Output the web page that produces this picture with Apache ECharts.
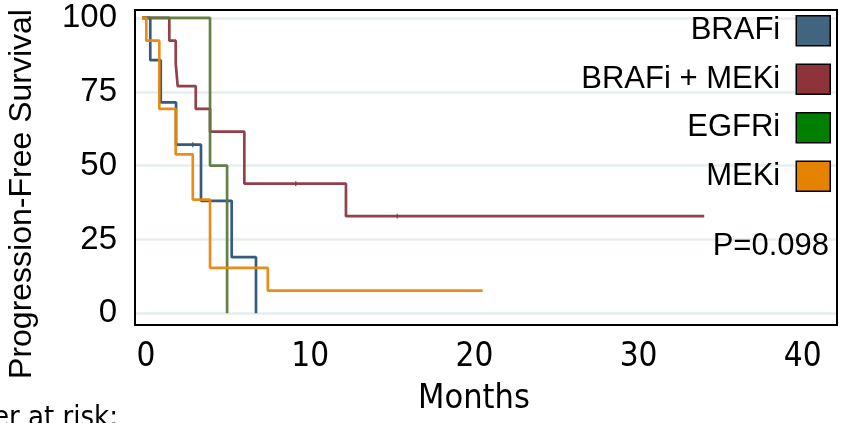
<!DOCTYPE html>
<html><head><meta charset="utf-8">
<script src="https://cdn.jsdelivr.net/npm/echarts@6/dist/echarts.min.js"></script>
<style>html,body{margin:0;padding:0;background:#fff}#c{width:843px;height:423px}</style>
</head><body><div id="c"></div>
<script>
// ---- data ----
const groupNames = ['BRAFi', 'BRAFi + MEKi', 'EGFRi', 'MEKi'];
const brafiTime = [0, 0.5, 1.14, 2.07, 3.59, 5.46, 6.94];
const brafiSurv = [100, 85.7, 71.4, 57.1, 38.1, 19.0, 0];
const brafiCensorTime = [3.09];
const brafiCensorSurv = [57.1];
const combTime = [0, 1.66, 2.05, 2.17, 3.27, 4.14, 6.23, 12.42, 34.24];
const combSurv = [100, 92.3, 84.6, 76.9, 69.2, 61.5, 43.9, 32.9, 32.9];
const combCensorTime = [9.36, 15.55];
const combCensorSurv = [43.9, 32.9];
const egfriTime = [0, 4.14, 5.18];
const egfriSurv = [100, 50, 0];
const mekiTime = [0, 0.26, 1.05, 2.05, 3.09, 4.14, 7.66, 20.75];
const mekiSurv = [100, 92.3, 69.2, 53.8, 38.5, 15.4, 7.7, 7.7];
const xTicks = [0, 10, 20, 30, 40];
const yTicks = [0, 25, 50, 75, 100];
const xTitle = 'Months';
const yTitle = 'Progression-Free Survival';
const pValueText = 'P=0.098';
const riskText = 'Number at risk:';

// ---- styles ----
const lineColors = ['#2a5279', '#8d3640', '#5b7a3b', '#e8870e'];
const legendColors = ['#41647f', '#8c343a', '#007f00', '#e58200'];
const NARROW = '"Liberation Sans Narrow", "DejaVu Sans Condensed", sans-serif';
const REG = '"Liberation Sans", Arial, sans-serif';

const zip = (a, b) => a.map((v, i) => [v, b[i]]);
const curves = [
  zip(brafiTime, brafiSurv),
  zip(combTime, combSurv),
  zip(egfriTime, egfriSurv),
  zip(mekiTime, mekiSurv)
];
const censors = [
  zip(brafiCensorTime, brafiCensorSurv),
  zip(combCensorTime, combCensorSurv),
  [], []
];

const series = [{
  name: 'grid', type: 'line', data: [], z: 0, silent: true,
  markLine: {
    silent: true, symbol: 'none', animation: false, z: 1,
    label: { show: false },
    lineStyle: { color: '#e6eef0', width: 2.5, type: 'solid' },
    data: yTicks.map(v => ({ yAxis: v }))
  }
}];
groupNames.forEach((n, i) => {
  series.push({
    name: n, type: 'line', step: 'end', data: curves[i],
    symbol: 'none', showSymbol: false, z: 3 + i,
    color: lineColors[i],
    lineStyle: { color: lineColors[i], width: 2.7, opacity: 0.95 }
  });
  if (censors[i].length) series.push({
    name: 'c' + n, type: 'scatter', data: censors[i], z: 3 + i,
    symbol: 'rect', symbolSize: [1.5, 5],
    itemStyle: { color: lineColors[i] }
  });
});

const chart = echarts.init(document.getElementById('c'), null, { renderer: 'canvas' });
chart.setOption({
  animation: false,
  backgroundColor: '#fff',
  grid: { left: 135, right: 6, top: 10, bottom: 98, show: true, borderColor: '#000', borderWidth: 2, backgroundColor: 'transparent', z: 20 },
  xAxis: {
    type: 'value', min: -0.43, max: 42.33,
    axisLine: { show: false }, axisTick: { show: false }, splitLine: { show: false },
    axisLabel: { customValues: xTicks, fontSize: 33, fontFamily: NARROW, color: '#000', margin: 16, padding: [0, 0, 0, 8] }
  },
  yAxis: {
    type: 'value', min: -3.96, max: 102.7,
    axisLine: { show: false }, axisTick: { show: false }, splitLine: { show: false },
    axisLabel: { customValues: yTicks, fontSize: 33, fontFamily: REG, color: '#000', margin: 18 }
  },
  legend: {
    orient: 'vertical', right: 12, top: 15, padding: 0, z: 30,
    align: 'right', icon: 'rect', itemWidth: 34, itemHeight: 30, itemGap: 17,
    textStyle: { fontSize: 31, fontFamily: REG, color: '#000', lineHeight: 30, padding: [0, 11, 0, 0] },
    data: groupNames.map((n, i) => ({ name: n, itemStyle: { color: legendColors[i], borderColor: '#000', borderWidth: 1.5 } }))
  },
  graphic: [
    { type: 'text', z: 50, x: 22, y: 194, rotation: Math.PI / 2, style: { text: yTitle, font: '32px ' + REG, fill: '#000', textAlign: 'center', textVerticalAlign: 'middle' } },
    { type: 'text', z: 50, x: 474, y: 399, style: { text: xTitle, font: '34px ' + NARROW, fill: '#000', textAlign: 'center', textVerticalAlign: 'middle' } },
    { type: 'text', z: 50, x: 829, y: 246, style: { text: pValueText, font: '31px ' + REG, fill: '#000', textAlign: 'right', textVerticalAlign: 'middle' } },
    { type: 'text', z: 50, x: 118, y: 404, style: { text: riskText, font: '29px ' + NARROW, fill: '#000', textAlign: 'right', textVerticalAlign: 'top' } }
  ],
  series: series
});
</script></body></html>
